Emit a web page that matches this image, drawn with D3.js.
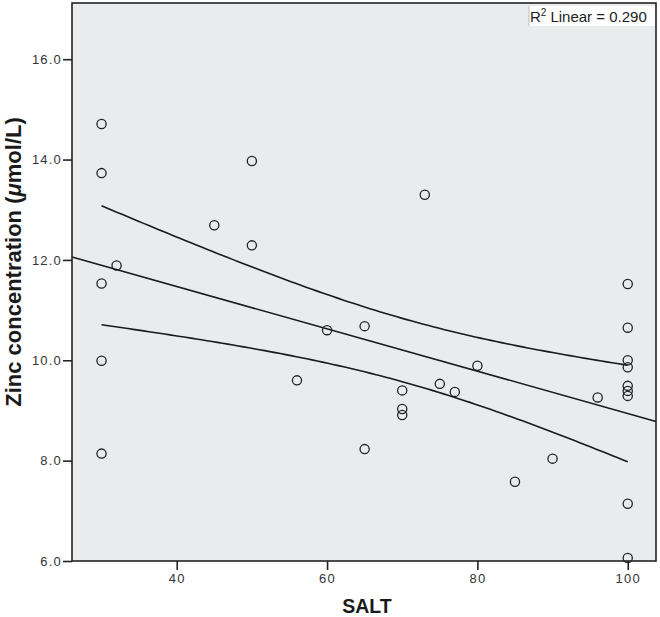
<!DOCTYPE html>
<html>
<head>
<meta charset="utf-8">
<script src="https://cdn.jsdelivr.net/npm/d3@7"></script>
<style>
  body { margin: 0; background: #fff; }
  svg { display: block; }
</style>
</head>
<body>
<svg id="chart" width="660" height="617"></svg>
<script>
// ---- data ----
const saltValues = [30, 30, 30, 30, 30, 32, 45, 50, 50, 56, 60, 65, 65, 70, 70, 70,
                    73, 75, 77, 80, 85, 90, 96, 100, 100, 100, 100, 100, 100, 100, 100, 100];
const zincValues = [14.71, 13.73, 11.53, 9.99, 8.14, 11.89, 12.69, 13.97, 12.29, 9.60, 10.60, 10.68, 8.23, 9.40, 9.03, 8.91,
                    13.30, 9.53, 9.37, 9.89, 7.58, 8.04, 9.26, 11.52, 10.65, 10.00, 9.86, 9.49, 9.39, 9.29, 7.14, 6.06];
const xTicks = [40, 60, 80, 100];
const yTicks = [6, 8, 10, 12, 14, 16];
const xDomain = [26.07, 103.76];
const yDomain = [6, 17.12];
const xLabel = "SALT";
const yLabel = "Zinc concentration (";
const yLabelMu = "\u03bc";
const yLabelEnd = "mol/L)";
const r2Label = "Linear = 0.290";
const tCrit = 2.042; // t(0.975, df = 30)

// ---- layout ----
const svg = d3.select("#chart");
const pL = 72, pR = 656, pT = 3, pB = 561;
const x = d3.scaleLinear().domain(xDomain).range([pL, pR]);
const y = d3.scaleLinear().domain(yDomain).range([pB, pT]);

// plot background
svg.append("rect").attr("x", pL).attr("y", pT)
  .attr("width", pR - pL).attr("height", pB - pT)
  .attr("fill", "#eaebed");

// ---- regression ----
const pts = saltValues.map((s, i) => ({ x: s, y: zincValues[i] }));
const n = pts.length;
const mx = d3.mean(pts, d => d.x), my = d3.mean(pts, d => d.y);
const sxx = d3.sum(pts, d => (d.x - mx) ** 2);
const sxy = d3.sum(pts, d => (d.x - mx) * (d.y - my));
const slope = sxy / sxx, intercept = my - slope * mx;
const sse = d3.sum(pts, d => (d.y - (intercept + slope * d.x)) ** 2);
const se = Math.sqrt(sse / (n - 2));
const fit = xv => intercept + slope * xv;
const half = xv => tCrit * se * Math.sqrt(1 / n + (xv - mx) ** 2 / sxx);

const line = d3.line().x(d => x(d[0])).y(d => y(d[1]));
const fitLine = xDomain.map(v => [v, fit(v)]);
const [xmin, xmax] = d3.extent(saltValues);
const ciX = d3.range(0, 101).map(i => xmin + (xmax - xmin) * i / 100);
const upper = ciX.map(v => [v, fit(v) + half(v)]);
const lower = ciX.map(v => [v, fit(v) - half(v)]);

const g = svg.append("g");
[fitLine, upper, lower].forEach(d => {
  g.append("path").attr("d", line(d)).attr("fill", "none")
    .attr("stroke", "#1a1a1a").attr("stroke-width", 1.6);
});

// points
g.selectAll("circle").data(pts).enter().append("circle")
  .attr("cx", d => x(d.x)).attr("cy", d => y(d.y)).attr("r", 4.6)
  .attr("fill", "none").attr("stroke", "#222").attr("stroke-width", 1.3);

// frame
svg.append("rect").attr("x", pL).attr("y", pT)
  .attr("width", pR - pL).attr("height", pB - pT)
  .attr("fill", "none").attr("stroke", "#222").attr("stroke-width", 1.6);

// axes
const tickFont = "'Liberation Sans', Arial, sans-serif";
const xAxis = svg.append("g").attr("transform", `translate(0,${pB})`)
  .call(d3.axisBottom(x).tickValues(xTicks).tickFormat(d3.format("d")).tickSize(9).tickPadding(4));
const yAxis = svg.append("g").attr("transform", `translate(${pL},0)`)
  .call(d3.axisLeft(y).tickValues(yTicks).tickFormat(d3.format(".1f")).tickSize(9).tickPadding(1));
[xAxis, yAxis].forEach(a => {
  a.select(".domain").remove();
  a.selectAll("line").attr("stroke", "#222").attr("stroke-width", 1.6);
  a.selectAll("text").attr("fill", "#333").style("font-family", tickFont)
    .style("font-size", "13px").style("letter-spacing", "1.2px");
});

// axis titles
svg.append("text").attr("x", 367).attr("y", 613).attr("text-anchor", "middle")
  .style("font-family", tickFont).style("font-weight", "bold").style("font-size", "19.5px")
  .attr("fill", "#1a1a1a").text(xLabel);
const yt = svg.append("text").attr("transform", "translate(21,262) rotate(-90)")
  .attr("text-anchor", "middle")
  .style("font-family", tickFont).style("font-weight", "bold").style("font-size", "22px")
  .attr("fill", "#1a1a1a");
yt.append("tspan").text(yLabel);
yt.append("tspan").style("font-style", "italic").text(yLabelMu);
yt.append("tspan").text(yLabelEnd);

// R² box
svg.append("rect").attr("x", 529).attr("y", 6).attr("width", 126).attr("height", 20)
  .attr("fill", "#ffffff");
svg.append("line").attr("x1", 529).attr("x2", 529).attr("y1", 6).attr("y2", 26)
  .attr("stroke", "#bbb").attr("stroke-width", 1);
const rt = svg.append("text").attr("x", 530).attr("y", 21.5)
  .style("font-family", tickFont).style("font-size", "15px").attr("fill", "#222");
rt.append("tspan").text("R");
rt.append("tspan").attr("dy", -6).style("font-size", "10px").text("2");
rt.append("tspan").attr("dy", 6).attr("dx", 4).text(r2Label);
</script>
</body>
</html>
